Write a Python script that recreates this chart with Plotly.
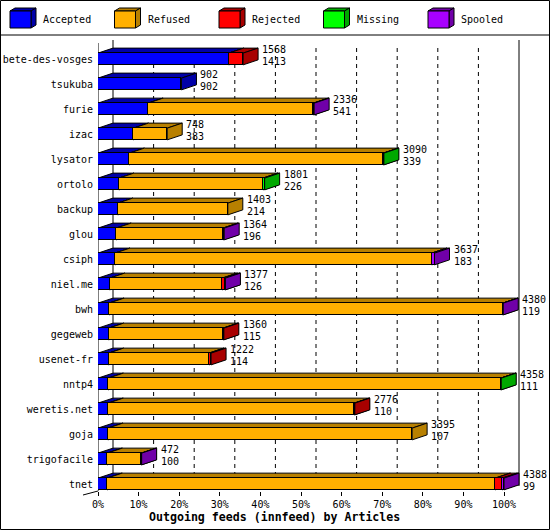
import plotly.graph_objects as go

# ---------------- data ----------------
HOSTS = ["bete-des-vosges", "tsukuba", "furie", "izac", "lysator", "ortolo",
         "backup", "glou", "csiph", "niel.me", "bwh", "gegeweb", "usenet-fr",
         "nntp4", "weretis.net", "goja", "trigofacile", "tnet"]
TOTAL = [1568, 902, 2336, 748, 3090, 1801, 1403, 1364, 3637, 1377, 4380,
         1360, 1222, 4358, 2776, 3395, 472, 4388]
ACCEPTED = [1413, 902, 541, 383, 339, 226, 214, 196, 183, 126, 119, 115,
            114, 111, 110, 107, 100, 99]
REFUSED = [0, 0, 1787, 365, 2745, 1557, 1189, 1155, 3424, 1218, 4255, 1237,
           1086, 4242, 2660, 3288, 368, 4195]
REJECTED = [155, 0, 0, 0, 0, 0, 0, 0, 0, 28, 0, 8, 22, 0, 6, 0, 0, 76]
MISSING = [0, 0, 0, 0, 6, 18, 0, 0, 0, 0, 0, 0, 0, 5, 0, 0, 0, 0]
SPOOLED = [0, 0, 8, 0, 0, 0, 0, 13, 30, 5, 6, 0, 0, 0, 0, 0, 4, 18]
SERIES = ["Accepted", "Refused", "Rejected", "Missing", "Spooled"]
TICKS = [0, 10, 20, 30, 40, 50, 60, 70, 80, 90, 100]
TICK_LABELS = [f"{t}%" for t in TICKS]
XTITLE = "Outgoing feeds (innfeed) by Articles"

# ---------------- style ----------------
FRONT = ["#0000ff", "#ffb000", "#ff0000", "#00ff00", "#a800ff"]
DARK = ["#0000a8", "#b88000", "#a80000", "#00a800", "#7000a8"]
FONT = "DejaVu Sans Mono"

W, H = 550, 530
L, R, T, B = 98, 520, 40, 491          # plot area in pixels
PX_PER_PCT = 4.06
ROW0, PITCH = 59, 25                    # pixel of first row centre, row pitch
DX = 15 / PX_PER_PCT                    # depth in % units
DY = 5 / PITCH                          # depth in row units
BW = 0.47                               # bar front height in row units


def px(X):
    return (X - L) / (R - L)


def py(Y):
    return (B - Y) / (B - T)


def ry(Y):
    return (Y - ROW0) / PITCH


series_vals = [ACCEPTED, REFUSED, REJECTED, MISSING, SPOOLED]
maxt = max(TOTAL)
pct = [[v / maxt * 100 for v in s] for s in series_vals]
rows = list(range(len(HOSTS)))

fig = go.Figure()

# front faces: real stacked bars
for k, name in enumerate(SERIES):
    fig.add_trace(go.Bar(
        y=rows,
        x=[p if series_vals[k][i] > 0 else None for i, p in enumerate(pct[k])],
        orientation="h", width=BW, name=name,
        marker=dict(color=FRONT[k], line=dict(color="black", width=1)),
        hoverinfo="x+name", showlegend=False))

shapes = []
# back wall dashed gridlines
for t in TICKS[1:-1]:
    shapes.append(dict(type="line", xref="x", yref="y", x0=t + DX, x1=t + DX,
                       y0=ry(48), y1=ry(486), layer="below",
                       line=dict(color="black", width=1, dash="4px,4px")))
for t in (0, 100):
    shapes.append(dict(type="line", xref="x", yref="y", x0=t + DX, x1=t + DX,
                       y0=ry(T), y1=ry(486), layer="below",
                       line=dict(color="black", width=1)))
shapes.append(dict(type="line", xref="x", yref="y", x0=0, x1=0,
                   y0=ry(43), y1=ry(B), layer="below",
                   line=dict(color="black", width=1)))


def dpath(pts):
    return "M " + " L ".join(f"{a},{b}" for a, b in pts) + " Z"


# 3D top and side faces in data coordinates (below the bars' front faces)
for i in rows:
    s = 0.0
    for k in range(len(SERIES)):
        if series_vals[k][i] <= 0:
            continue
        e = s + pct[k][i]
        yt, yb = i - BW / 2, i + BW / 2
        shapes.append(dict(type="path", xref="x", yref="y", layer="below",
                           path=dpath([(s, yt), (e, yt), (e + DX, yt - DY),
                                       (s + DX, yt - DY)]),
                           fillcolor=DARK[k],
                           line=dict(color="black", width=1)))
        shapes.append(dict(type="path", xref="x", yref="y", layer="below",
                           path=dpath([(e, yt), (e + DX, yt - DY),
                                       (e + DX, yb - DY), (e, yb)]),
                           fillcolor=DARK[k],
                           line=dict(color="black", width=1)))
        s = e

# frame, legend separator, floor diagonal
shapes.append(dict(type="line", xref="paper", yref="paper",
                   x0=px(83), y0=py(495), x1=px(98), y1=py(491),
                   line=dict(color="black", width=1)))
shapes.append(dict(type="line", xref="paper", yref="paper",
                   x0=px(0), x1=px(550), y0=py(35), y1=py(35),
                   line=dict(color="black", width=1)))
shapes.append(dict(type="rect", xref="paper", yref="paper",
                   x0=px(0.5), x1=px(549.5), y0=py(0.5), y1=py(529.5),
                   line=dict(color="black", width=1)))

annotations = []


def ppath(pts):
    return "M " + " L ".join(f"{px(a)},{py(b)}" for a, b in pts) + " Z"


# legend with 3D cubes
for k, name in enumerate(SERIES):
    X0 = 10 + 104.5 * k
    fx0, fx1, fy0, fy1 = X0, X0 + 21, 11, 28
    ddx, ddy = 5, 3
    shapes.append(dict(type="path", xref="paper", yref="paper",
                       path=ppath([(fx0, fy0), (fx1, fy0), (fx1 + ddx, fy0 - ddy),
                                   (fx0 + ddx, fy0 - ddy)]),
                       fillcolor=DARK[k], line=dict(color="black", width=1)))
    shapes.append(dict(type="path", xref="paper", yref="paper",
                       path=ppath([(fx1, fy0), (fx1 + ddx, fy0 - ddy),
                                   (fx1 + ddx, fy1 - ddy), (fx1, fy1)]),
                       fillcolor=DARK[k], line=dict(color="black", width=1)))
    shapes.append(dict(type="rect", xref="paper", yref="paper",
                       x0=px(fx0), x1=px(fx1), y0=py(fy0), y1=py(fy1),
                       fillcolor=FRONT[k], line=dict(color="black", width=1)))
    annotations.append(dict(xref="paper", yref="paper", x=px(X0 + 31), y=py(20),
                            text=name, showarrow=False, xanchor="left",
                            yanchor="middle",
                            font=dict(family=FONT, size=10, color="black")))

# value labels: total on top, accepted below
for i in rows:
    end = TOTAL[i] / maxt * 100
    for txt, dyp in ((str(TOTAL[i]), -10), (str(ACCEPTED[i]), 2)):
        annotations.append(dict(xref="x", yref="y", x=end + DX, y=i + dyp / PITCH,
                                text=txt, showarrow=False, xanchor="left",
                                yanchor="middle", xshift=2,
                                font=dict(family=FONT, size=10, color="black")))

annotations.append(dict(xref="paper", yref="paper", x=px(274), y=py(517),
                        text=f"<b>{XTITLE}</b>", showarrow=False,
                        xanchor="center", yanchor="middle",
                        font=dict(family=FONT, size=11.6, color="black")))

fig.update_layout(
    template="none",
    width=W, height=H, autosize=False,
    margin=dict(l=L, r=W - R, t=T, b=H - B, pad=0, autoexpand=False),
    paper_bgcolor="white", plot_bgcolor="white",
    barmode="stack", bargap=0,
    font=dict(family=FONT, size=10, color="black"),
    shapes=shapes, annotations=annotations, showlegend=False,
    xaxis=dict(range=[0, (R - L) / PX_PER_PCT], tickvals=TICKS,
               ticktext=TICK_LABELS, ticks="outside", ticklen=4,
               tickcolor="black", tickwidth=1, showgrid=False, showline=False,
               zeroline=False, fixedrange=True, automargin=False,
               tickfont=dict(family=FONT, size=10, color="black")),
    yaxis=dict(range=[ry(B), ry(T)], tickvals=rows, ticktext=HOSTS,
               ticks="", showgrid=False, showline=False, zeroline=False,
               ticklabelstandoff=4, fixedrange=True, automargin=False,
               tickfont=dict(family=FONT, size=10, color="black")),
)

fig.write_html("out.html", config={"displayModeBar": False},
               post_script="document.body.style.margin='0';"
                           "document.body.style.overflow='hidden';")
